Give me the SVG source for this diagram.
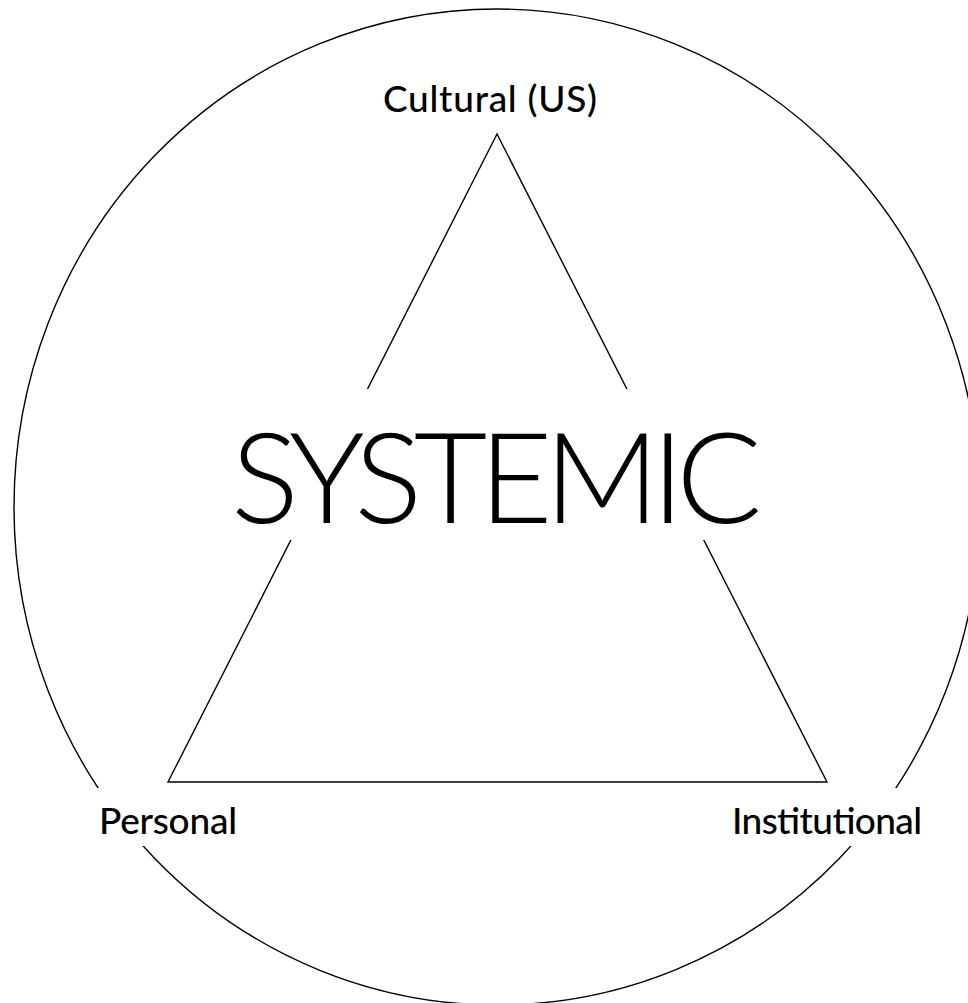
<svg xmlns="http://www.w3.org/2000/svg" width="968" height="1003" viewBox="0 0 968 1003">
  <style>
    .ln { fill: none; stroke: #000; stroke-width: 1.4; }
    .lbl { font-family: Lato, "Liberation Sans", sans-serif; fill: #000; font-size: 37px; font-weight: 500; }
    .big { font-family: Lato, "Liberation Sans", sans-serif; fill: #000; font-size: 127px; font-weight: 300; }
  </style>
  <defs>
    <mask id="gaps" maskUnits="userSpaceOnUse" x="0" y="0" width="968" height="1003">
      <rect x="0" y="0" width="968" height="1003" fill="#fff"/>
      <rect x="0" y="788" width="300" height="58" fill="#000"/>
      <rect x="700" y="788" width="268" height="58" fill="#000"/>
      <rect x="250" y="389" width="500" height="151" fill="#000"/>
    </mask>
  </defs>
  <rect width="968" height="1003" fill="#fff"/>
  <g id="connectors" mask="url(#gaps)">
    <ellipse id="circle" class="ln" cx="497" cy="507" rx="483" ry="498"/>
    <polygon id="triangle" class="ln" points="497,134 168,782 827,782"/>
  </g>
  <g id="node-systemic">
    <text class="big" x="231" y="523" textLength="531">SYSTEMIC</text>
  </g>
  <g id="node-cultural">
    <text class="lbl" x="383" y="112" textLength="214">Cultural (US)</text>
  </g>
  <g id="node-personal">
    <text class="lbl" x="99" y="834" textLength="138">Personal</text>
  </g>
  <g id="node-institutional">
    <text class="lbl" x="732" y="834" textLength="190">Institutional</text>
  </g>
</svg>
